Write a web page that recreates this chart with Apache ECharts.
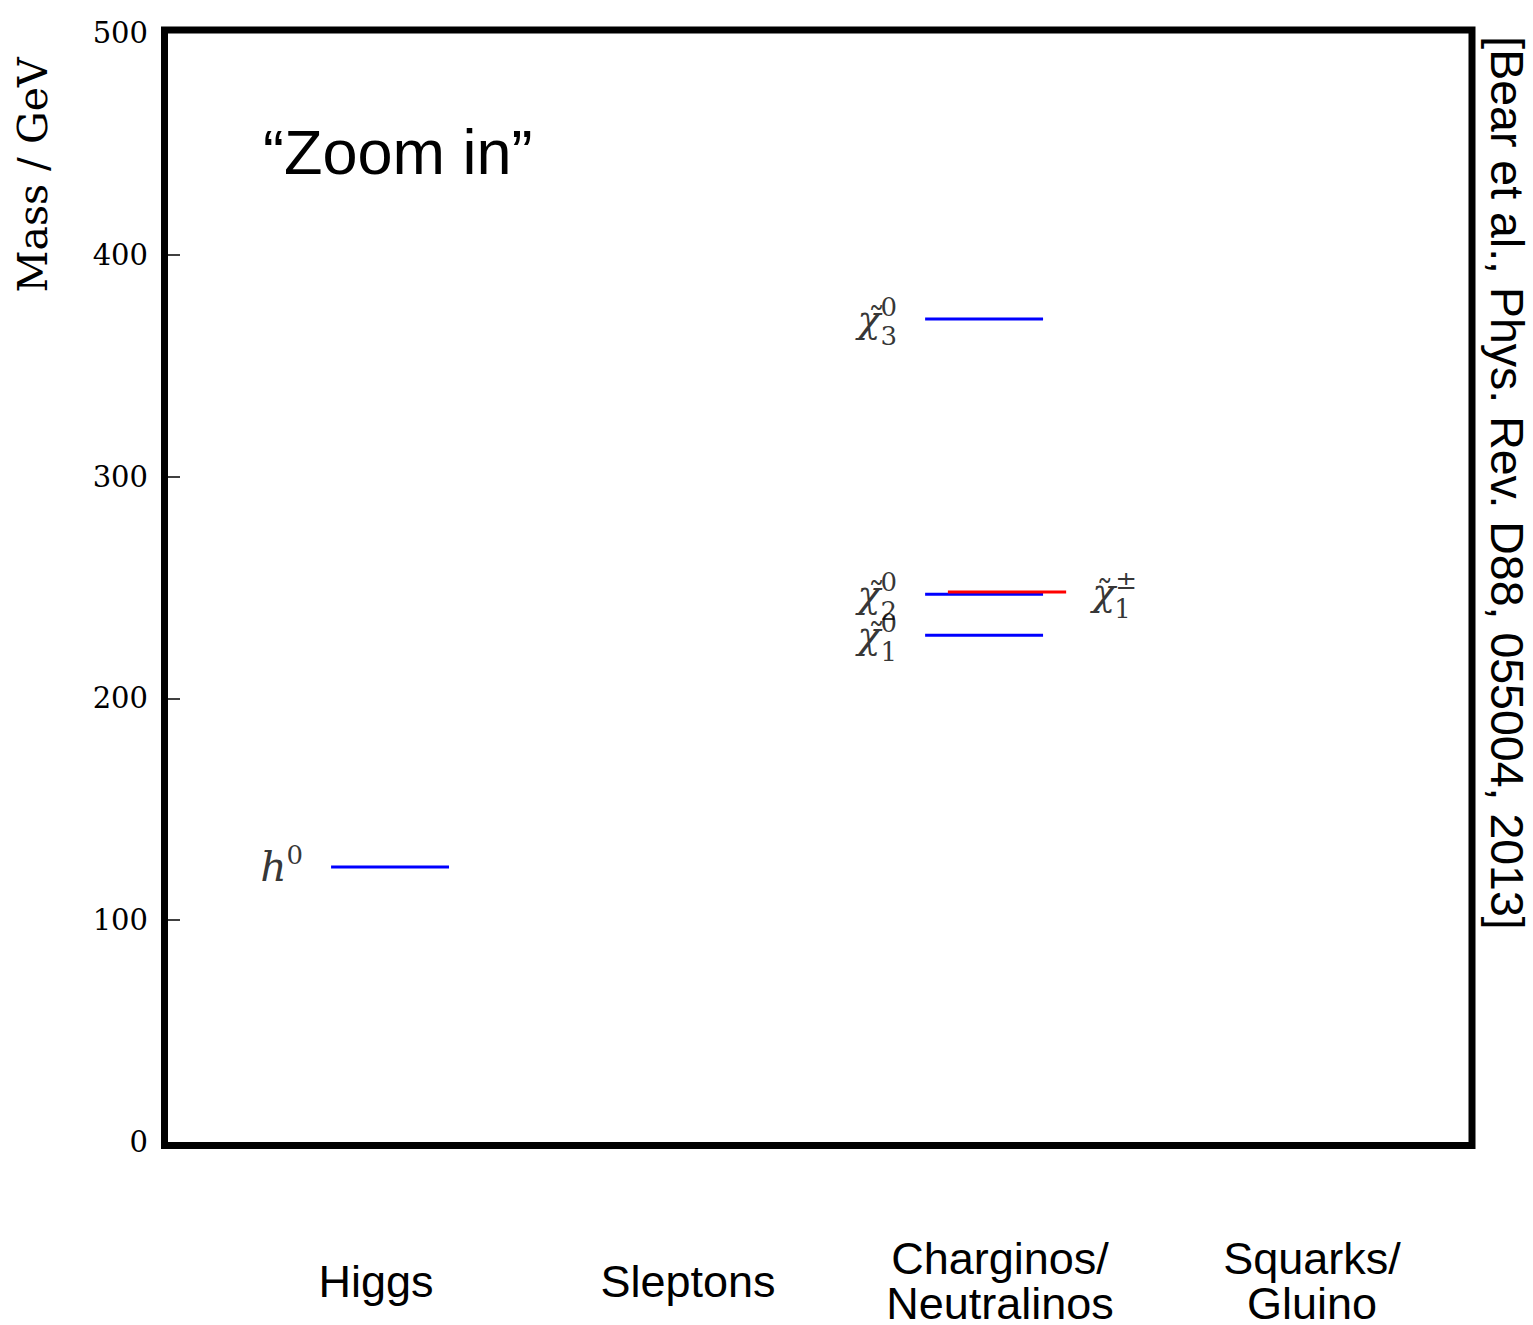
<!DOCTYPE html>
<html>
<head>
<meta charset="utf-8">
<script src="https://cdn.jsdelivr.net/npm/echarts@6/dist/echarts.min.js"></script>
<style>html,body{margin:0;padding:0;background:#fff}#c{width:1533px;height:1325px}</style>
</head>
<body>
<div id="c"></div>
<script>
// ---- data ----
const categories = ['Higgs', 'Sleptons', 'Charginos/\nNeutralinos', 'Squarks/\nGluino'];
const categoryPos = [1, 2, 3, 4];
const yTicks = [0, 100, 200, 300, 400, 500];
const particles = ['h0', 'chi1_0', 'chi2_0', 'chi3_0', 'chi1_pm'];
const masses = [124, 228.5, 247, 371, 248];
const lineStart = [0.856, 2.760, 2.760, 2.760, 2.833];
const lineEnd = [1.234, 3.138, 3.138, 3.138, 3.212];
const symbolMain = ['h', '\u03C7', '\u03C7', '\u03C7', '\u03C7'];
const symbolTilde = ['', '\u02DC', '\u02DC', '\u02DC', '\u02DC'];
const symbolSup = ['0', '0', '0', '0', '\u00B1'];
const symbolSub = ['', '1', '2', '3', '1'];
const labelSide = ['left', 'left', 'left', 'left', 'right'];
const annotation = '\u201CZoom in\u201D';
const citation = '[Bear et al., Phys. Rev. D88, 055004, 2013]';
const yName = 'Mass / GeV';

// ---- style ----
const lineColors = ['#0000ff', '#0000ff', '#0000ff', '#0000ff', '#ff0000'];
const serif = '"DejaVu Serif", serif';
const sans = '"Liberation Sans", Arial, sans-serif';

const chart = echarts.init(document.getElementById('c'), null, {renderer: 'svg'});

const lineSeries = particles.map((p, i) => ({
  name: p,
  type: 'line',
  data: [[lineStart[i], masses[i]], [lineEnd[i], masses[i]]],
  symbol: 'none',
  silent: true,
  z: labelSide[i] === 'right' ? 4 : 3,
  lineStyle: {color: lineColors[i], width: 3}
}));

const richMain = {
  m: {fontFamily: serif, fontStyle: 'italic', fontSize: 38, lineHeight: 50, color: '#000', verticalAlign: 'middle'},
  mh: {fontFamily: serif, fontStyle: 'italic', fontSize: 41, lineHeight: 50, color: '#000', verticalAlign: 'middle'},
  p: {fontFamily: serif, fontSize: 26, lineHeight: 28, color: '#000', verticalAlign: 'top'}
};

const anchorOf = i => [labelSide[i] === 'left' ? lineStart[i] : lineEnd[i], masses[i]];

const mainLabelSeries = {
  type: 'scatter',
  symbolSize: 0,
  silent: true,
  z: 5,
  data: particles.map((p, i) => ({
    value: anchorOf(i),
    label: {
      show: true,
      position: labelSide[i],
      distance: labelSide[i] === 'left' ? 28 : 26,
      formatter: '{' + (symbolTilde[i] ? 'm' : 'mh') + '|' + symbolMain[i] + '}{p|' + symbolSup[i] + '}',
      rich: richMain
    }
  }))
};

const tildeLabelSeries = {
  type: 'scatter',
  symbolSize: 0,
  silent: true,
  z: 5,
  data: particles.map((p, i) => ({
    value: anchorOf(i),
    label: {
      show: symbolTilde[i] !== '',
      position: labelSide[i],
      distance: labelSide[i] === 'left' ? 40 : 30,
      offset: [0, 1],
      formatter: symbolTilde[i],
      fontFamily: serif,
      fontSize: 34,
      color: '#000'
    }
  }))
};

const subLabelSeries = {
  type: 'scatter',
  symbolSize: 0,
  silent: true,
  z: 5,
  data: particles.map((p, i) => ({
    value: anchorOf(i),
    label: {
      show: symbolSub[i] !== '',
      position: labelSide[i],
      distance: labelSide[i] === 'left' ? 28 : 48,
      offset: [0, 17],
      formatter: symbolSub[i],
      fontFamily: serif,
      fontSize: 26,
      color: '#000'
    }
  }))
};

const option = {
  backgroundColor: '#fff',
  animation: false,
  grid: {left: 168, top: 33, right: 65, bottom: 183, containLabel: false, outerBoundsMode: 'none', show: false},
  xAxis: {
    type: 'value',
    min: 1 / 3,
    max: 4.5,
    axisLine: {show: false},
    axisTick: {show: false},
    splitLine: {show: false},
    axisLabel: {
      customValues: categoryPos,
      formatter: v => {
        const idx = categoryPos.indexOf(Math.round(v));
        return idx >= 0 ? categories[idx] : '';
      },
      margin: 139,
      verticalAlign: 'middle',
      align: 'center',
      fontFamily: sans,
      fontSize: 45,
      lineHeight: 45,
      color: '#000'
    }
  },
  yAxis: {
    type: 'value',
    min: yTicks[0],
    max: yTicks[yTicks.length - 1],
    interval: yTicks[1] - yTicks[0],
    axisLine: {show: false},
    axisTick: {show: true, inside: true, length: 12, customValues: yTicks.slice(1, -1), lineStyle: {color: '#000', width: 1.5}},
    splitLine: {show: false},
    axisLabel: {margin: 20, fontFamily: serif, fontSize: 29, color: '#000'}
  },
  graphic: [
    {type: 'rect', shape: {x: 164.5, y: 30, width: 1307.5, height: 1115.5},
     style: {fill: 'none', stroke: '#000', lineWidth: 7}, z: 10, silent: true},
    {type: 'text', x: 263, y: 152,
     style: {text: annotation, fontFamily: sans, fontSize: 63, fill: '#000', textAlign: 'left', textVerticalAlign: 'middle'}},
    {type: 'text', x: 33, y: 175, rotation: Math.PI / 2,
     style: {text: yName, fontFamily: serif, fontSize: 41, fill: '#000', textAlign: 'center', textVerticalAlign: 'middle'}},
    {type: 'text', x: 1507, y: 483, rotation: -Math.PI / 2,
     style: {text: citation, fontFamily: sans, fontSize: 46.5, fill: '#000', textAlign: 'center', textVerticalAlign: 'middle'}}
  ],
  series: [...lineSeries, mainLabelSeries, tildeLabelSeries, subLabelSeries]
};
chart.setOption(option);
</script>
</body>
</html>
